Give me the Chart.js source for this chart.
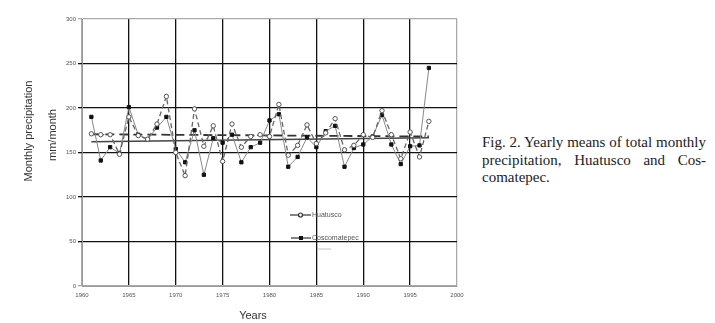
<!DOCTYPE html>
<html>
<head>
<meta charset="utf-8">
<script src="https://cdn.jsdelivr.net/npm/chart.js@4/dist/chart.umd.min.js"></script>
<style>
  body { margin: 0; background: #fff; width: 715px; height: 323px; position: relative; overflow: hidden; }
  #wrap { position: absolute; left: 0; top: 0; width: 470px; height: 323px; }
  .ytitle { position: absolute; font-family: 'Liberation Sans', Arial, sans-serif; font-size: 11px; color: #333;
            transform: translate(-50%, -50%) rotate(-90deg); white-space: nowrap; }
  #xtitle { position: absolute; left: 253px; top: 315px; transform: translate(-50%, -50%);
            font-family: 'Liberation Sans', Arial, sans-serif; font-size: 11px; color: #333; }
  #caption { position: absolute; left: 482px; top: 134px; width: 224px; font-family: 'Liberation Serif', 'Times New Roman', serif;
             font-size: 15px; line-height: 17.5px; color: #222; }
  #caption div { white-space: nowrap; }
  #caption .j { text-align: justify; text-align-last: justify; }
  #caption .tight { word-spacing: -1px; }
</style>
</head>
<body>
<div id="wrap"><canvas id="chart"></canvas></div>
<div class="ytitle" style="left:28px; top:131px;">Monthly precipitation</div>
<div class="ytitle" style="left:52px; top:135px;">mm/month</div>
<div id="xtitle">Years</div>
<div id="caption">
  <div class="j tight">Fig. 2. Yearly means of total monthly</div>
  <div class="j" style="white-space: normal;">precipitation, Huatusco and Cos-</div>
  <div>comatepec.</div>
</div>
<script>
const years = [1961, 1962, 1963, 1964, 1965, 1966, 1967, 1968, 1969, 1970,
               1971, 1972, 1973, 1974, 1975, 1976, 1977, 1978, 1979, 1980,
               1981, 1982, 1983, 1984, 1985, 1986, 1987, 1988, 1989, 1990,
               1991, 1992, 1993, 1994, 1995, 1996, 1997];
const huatusco = [171, 170, 170, 148, 190, 169, 165, 182, 213, 150,
                  124, 199, 157, 180, 140, 182, 156, 168, 170, 168,
                  204, 147, 158, 181, 160, 172, 188, 153, 158, 170,
                  167, 197, 170, 143, 173, 145, 185];
const coscomatepec = [190, 141, 156, 149, 201, 170, 165, 178, 190, 154,
                      139, 175, 125, 166, 161, 170, 139, 156, 161, 186,
                      193, 134, 145, 167, 156, 174, 180, 134, 155, 159,
                      168, 192, 159, 137, 157, 158, 245];
// straight mean lines, drawn from first to last year
const meanYears = [1961, 1997];
const huatuscoMean = [170.5, 168];
const coscomatepecMean = [162, 166.5];

const xTicks = [1960, 1965, 1970, 1975, 1980, 1985, 1990, 1995, 2000];
const yTicks = [0, 50, 100, 150, 200, 250, 300];

const pts = (xs, ys) => xs.map((x, i) => ({ x: x, y: ys[i] }));

const legendPlugin = {
  id: 'insideLegend',
  afterDraw(chart) {
    const ctx = chart.ctx;
    ctx.save();
    ctx.strokeStyle = '#333';
    ctx.lineWidth = 1.2;
    ctx.beginPath(); ctx.moveTo(290, 215); ctx.lineTo(311, 215); ctx.stroke();
    ctx.beginPath(); ctx.arc(300.5, 215, 2, 0, Math.PI * 2); ctx.fillStyle = '#fff'; ctx.fill(); ctx.stroke();
    ctx.beginPath(); ctx.moveTo(291, 238); ctx.lineTo(311, 238); ctx.stroke();
    ctx.fillStyle = '#111'; ctx.fillRect(299, 236, 4, 4);
    ctx.strokeStyle = '#ccc';
    ctx.beginPath(); ctx.moveTo(318, 249); ctx.lineTo(331, 249); ctx.stroke();
    ctx.fillStyle = '#555';
    ctx.font = '7px "Liberation Sans", Arial, sans-serif';
    ctx.textBaseline = 'middle';
    ctx.fillText('Huatusco', 312, 215);
    ctx.fillText('Coscomatepec', 312, 238);
    ctx.restore();
  }
};

new Chart(document.getElementById('chart').getContext('2d'), {
  type: 'line',
  data: {
    datasets: [
      {
        label: 'Huatusco',
        data: pts(years, huatusco),
        borderColor: '#666',
        borderWidth: 1.3,
        borderDash: [5, 3],
        pointStyle: 'circle',
        pointRadius: 2.2,
        pointBackgroundColor: '#fff',
        pointBorderColor: '#555',
        pointBorderWidth: 1,
        tension: 0
      },
      {
        label: 'Coscomatepec',
        data: pts(years, coscomatepec),
        borderColor: '#888',
        borderWidth: 1,
        pointStyle: 'rect',
        pointRadius: 2.3,
        pointBackgroundColor: '#111',
        pointBorderColor: '#111',
        tension: 0
      },
      {
        label: 'Huatusco mean',
        data: pts(meanYears, huatuscoMean),
        borderColor: '#333',
        borderWidth: 1.8,
        borderDash: [9, 5],
        pointRadius: 0
      },
      {
        label: 'Coscomatepec mean',
        data: pts(meanYears, coscomatepecMean),
        borderColor: '#444',
        borderWidth: 1.6,
        pointRadius: 0
      }
    ]
  },
  options: {
    responsive: true,
    maintainAspectRatio: false,
    animation: false,
    layout: { padding: { left: 0, top: 19, right: 13, bottom: 0 } },
    plugins: { legend: { display: false }, tooltip: { enabled: false } },
    scales: {
      x: {
        type: 'linear',
        min: 1960, max: 2000,
        afterFit: s => { s.height = 37; },
        afterBuildTicks: s => { s.ticks = xTicks.map(v => ({ value: v })); },
        ticks: { padding: 6, color: '#555', font: { size: 6, family: 'Liberation Sans' }, maxRotation: 0,
                 callback: v => String(v) },
        grid: { drawTicks: false, lineWidth: 1.3,
                color: c => (c.tick && (c.tick.value === 1960 || c.tick.value === 2000)) ? '#aaa' : '#111' },
        border: { color: '#999', width: 1 }
      },
      y: {
        min: 0, max: 300,
        afterFit: s => { s.width = 82; },
        afterBuildTicks: s => { s.ticks = yTicks.map(v => ({ value: v })); },
        ticks: { padding: 2, color: '#555', font: { size: 6, family: 'Liberation Sans' } },
        grid: { tickLength: 4, lineWidth: 1.3,
                color: c => (c.tick && (c.tick.value === 0 || c.tick.value === 300)) ? '#aaa' : '#111' },
        border: { color: '#999', width: 1 }
      }
    }
  },
  plugins: [legendPlugin]
});
</script>
</body>
</html>
